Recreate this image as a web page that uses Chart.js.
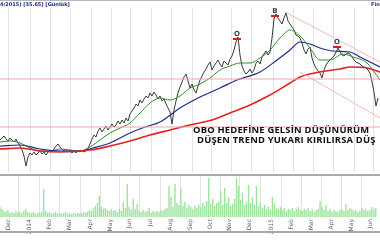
<!DOCTYPE html>
<html>
<head>
<meta charset="utf-8">
<script src="https://cdn.jsdelivr.net/npm/chart.js@4"></script>
<style>
  html, body { margin: 0; padding: 0; background: #fff; }
  #wrap { position: relative; width: 380px; height: 240px; overflow: hidden; background: #fff; }
  #head { position: absolute; left: 0; top: 0; width: 380px; height: 7px; border-top: 1px solid #b8b8b8;
          font: bold 5px "DejaVu Sans", sans-serif; color: #1c2a78; line-height: 7px; white-space: nowrap; }
  #head .r { position: absolute; left: 371px; top: 0; }
  #main { position: absolute; left: 0; top: 0; }
  #vol { position: absolute; left: 0; top: 175px; }
  #sep1 { position: absolute; left: 0; top: 174px; width: 380px; height: 2px; background: #a9a9a9; }
  #sep2 { position: absolute; left: 0; top: 231px; width: 380px; height: 2px; background: #a9a9a9; }
  .note { position: absolute; font: bold 9.4px "Open Sans", sans-serif; letter-spacing: 0.2px; color: #111; white-space: nowrap; }
</style>
</head>
<body>
<div id="wrap">
  <canvas id="main" width="380" height="175"></canvas>
  <canvas id="vol" width="380" height="65"></canvas>
  <div id="sep1"></div>
  <div id="sep2"></div>
  <div id="head">4/2015) [35.65] [Günlük]<span class="r">Fin</span></div>
  <div class="note" style="left:193px; top:123px;">OBO HEDEFİNE GELSİN DÜŞÜNÜRÜM</div>
  <div class="note" style="left:197px; top:133px;">DÜŞEN TREND YUKARI KIRILIRSA DÜŞ</div>
</div>
<script>
// trading days between two samples of the series
const STEP = 2;

// month ticks (trading-day index) and their labels
const monthTicks = [8, 30, 50, 70, 91, 111, 130, 151, 171, 192, 212, 231, 251, 273, 293, 313, 333, 354, 373];
const monthLabels = ['Dec', '2014', 'Feb', 'Mar', 'Apr', 'May', 'Jun', 'Jul', 'Aug', 'Sep', 'Oct', 'Nov', 'Dec', '2015', 'Feb', 'Mar', 'Apr', 'May', 'Jun'];

// closing price (one value every STEP days)
const price = [
  32, 34, 36, 33, 31, 34, 32, 30, 33, 29,
  26, 22, 16, 6, 15, 19, 17, 20, 17, 19,
  21, 18, 20, 17, 20, 22, 20, 23, 26, 28,
  25, 23, 21, 23, 20, 22, 19, 21, 19, 22,
  20, 22, 20, 21, 24, 28, 33, 37, 35, 41,
  44, 40, 43, 46, 42, 45, 48, 45, 47, 51,
  48, 52, 49, 54, 51, 58, 61, 64, 68, 66,
  72, 69, 73, 76, 74, 79, 76, 80, 77, 73,
  76, 71, 73, 68, 64, 60, 48, 62, 71, 79,
  85, 90, 95, 98, 91, 84, 88, 82, 79, 86,
  92, 96, 100, 103, 107, 110, 102, 106, 109, 112,
  108, 105, 111, 109, 107, 113, 116, 122, 130, 135,
  117, 106, 101, 98, 100, 103, 99, 102, 109, 111,
  108, 115, 118, 121, 117, 120, 134, 153, 158, 154,
  151, 148, 154, 159, 151, 148, 145, 142, 137, 136,
  134, 129, 122, 118, 123, 125, 114, 108, 104, 101,
  99, 94, 102, 107, 110, 112, 114, 116, 120, 124,
  120, 117, 116, 118, 119, 118, 115, 112, 110, 109,
  108, 106, 105, 104, 102, 99, 90, 80, 66, 74
];

// volume (one value every STEP days)
const volume = [
  10, 8, 6, 5, 7, 4, 5, 4, 6, 5,
  5, 4, 6, 8, 5, 4, 4, 5, 3, 4,
  4, 5, 28, 6, 4, 5, 3, 4, 5, 3,
  4, 3, 4, 5, 3, 4, 3, 4, 3, 4,
  3, 4, 5, 4, 5, 7, 6, 9, 11, 14,
  21, 10, 8, 9, 7, 6, 8, 6, 7, 5,
  8, 6, 15, 9, 33, 10, 7, 18, 8, 13,
  6, 5, 7, 5, 6, 9, 4, 6, 5, 6,
  5, 7, 6, 8, 9, 31, 20, 10, 33, 14,
  12, 29, 11, 15, 9, 12, 10, 8, 11, 9,
  12, 10, 14, 11, 16, 39, 13, 18, 11, 14,
  15, 26, 12, 29, 14, 20, 11, 13, 18, 39,
  31, 17, 24, 12, 15, 32, 14, 20, 12, 31,
  11, 15, 9, 12, 8, 10, 7, 20, 14, 9,
  8, 10, 7, 9, 6, 8, 7, 9, 6, 8,
  10, 7, 6, 8, 7, 9, 6, 8, 5, 7,
  8, 16, 10, 7, 12, 6, 8, 5, 7, 6,
  5, 7, 8, 6, 13, 7, 9, 8, 6, 7,
  5, 6, 9, 7, 8, 6, 7, 10, 8, 9
];

// moving averages as [day, value]
const maFast = [[0, 30], [10, 31], [20, 29], [30, 24], [40, 21], [50, 21], [60, 23], [70, 22], [80, 21], [90, 25],
  [100, 32], [110, 39], [120, 44], [130, 49], [140, 59], [150, 69], [160, 74], [170, 72], [180, 76], [190, 84],
  [200, 88], [210, 94], [220, 102], [230, 106], [240, 109], [250, 109], [260, 114], [270, 122], [280, 134],
  [290, 142], [300, 136], [310, 124], [320, 112], [330, 112], [343, 118], [353, 115], [367, 109], [380, 92]];
const maMid = [[0, 26], [20, 27], [40, 23], [60, 21], [80, 21], [93, 24], [110, 29], [130, 39], [145, 45],
  [160, 50], [180, 64], [200, 75], [220, 84], [237, 92], [260, 100], [277, 112], [290, 122], [300, 130],
  [310, 128], [320, 124], [333, 121], [350, 120], [360, 115], [380, 105]];
const maSlow = [[0, 23], [20, 24], [40, 21], [60, 20], [90, 22], [110, 26], [130, 31], [150, 37], [170, 42],
  [190, 47], [212, 52], [230, 59], [250, 67], [270, 77], [290, 89], [300, 95], [320, 100], [340, 103],
  [350, 105], [367, 104], [380, 100]];

// horizontal levels and trend lines
const levels = [93, 45];
const trendLines = [[[285, 160], [380, 110]], [[300, 100], [380, 54]]];

// formation letters
const marks = [{ x: 237, y: 136, t: 'O' }, { x: 275, y: 159, t: 'B' }, { x: 337, y: 128, t: 'O' }];

const pairs = arr => arr.map(p => ({ x: p[0], y: p[1] }));

const xBase = {
  type: 'linear', min: 0, max: 380,
  afterBuildTicks: ax => { ax.ticks = monthTicks.map(v => ({ value: v })); },
  grid: { color: '#e3e3e3', drawTicks: false },
  border: { display: false }
};

const lineDs = (data, color, width) => ({
  type: 'line', data, borderColor: color, borderWidth: width,
  pointRadius: 0, tension: 0, fill: false
});

const smooth = ds => Object.assign(ds, { cubicInterpolationMode: 'monotone' });

const markPlugin = {
  id: 'marks',
  afterDatasetsDraw(chart) {
    const { ctx, scales: { x, y } } = chart;
    ctx.save();
    marks.forEach(m => {
      const px = x.getPixelForValue(m.x);
      const py = y.getPixelForValue(m.y);
      ctx.fillStyle = '#d81e1e';
      ctx.fillRect(px - 4, py + 2, 8, 2);
      ctx.font = 'bold 7px "DejaVu Sans"';
      ctx.textAlign = 'center';
      ctx.textBaseline = 'bottom';
      ctx.lineWidth = 2;
      ctx.strokeStyle = '#fff';
      ctx.strokeText(m.t, px, py + 2);
      ctx.fillStyle = '#444';
      ctx.fillText(m.t, px, py + 2);
    });
    ctx.restore();
  }
};

new Chart(document.getElementById('main'), {
  type: 'line',
  data: {
    datasets: [
      ...levels.map(v => lineDs([{ x: 0, y: v }, { x: 380, y: v }], '#f2a5a5', 1)),
      ...trendLines.map(t => lineDs(pairs(t), '#f4b8b8', 1)),
      smooth(lineDs(pairs(maSlow), '#e32222', 1.6)),
      smooth(lineDs(pairs(maMid), '#1d2a8f', 1.2)),
      smooth(lineDs(pairs(maFast), '#2f8f2f', 1)),
      lineDs(price.map((v, i) => ({ x: i * STEP, y: v })), '#3a3a3a', 1)
    ]
  },
  options: {
    responsive: false, animation: false,
    layout: { padding: { top: 8, left: 0, right: 0, bottom: 0 } },
    plugins: { legend: { display: false }, tooltip: { enabled: false } },
    scales: {
      x: Object.assign({}, xBase, { ticks: { display: false }, afterFit: s => { s.height = 3; } }),
      y: { display: false, min: 0, max: 164 }
    }
  },
  plugins: [markPlugin]
});

new Chart(document.getElementById('vol'), {
  type: 'bar',
  data: {
    datasets: [{
      data: volume.map((v, i) => ({ x: i * STEP, y: v })),
      backgroundColor: '#9de39d',
      barPercentage: 1, categoryPercentage: 0.7
    }]
  },
  options: {
    responsive: false, animation: false,
    layout: { padding: { top: 1, left: 0, right: 0, bottom: 0 } },
    plugins: { legend: { display: false }, tooltip: { enabled: false } },
    scales: {
      x: Object.assign({}, xBase, {
        offset: false,
        ticks: {
          autoSkip: false, minRotation: 90, maxRotation: 90, padding: 2,
          font: { size: 6, family: 'DejaVu Sans' }, color: '#666',
          callback: v => monthLabels[monthTicks.indexOf(v)]
        },
        afterFit: s => { s.height = 23; }
      }),
      y: { display: false, min: 0, max: 41 }
    }
  }
});
</script>
</body>
</html>
